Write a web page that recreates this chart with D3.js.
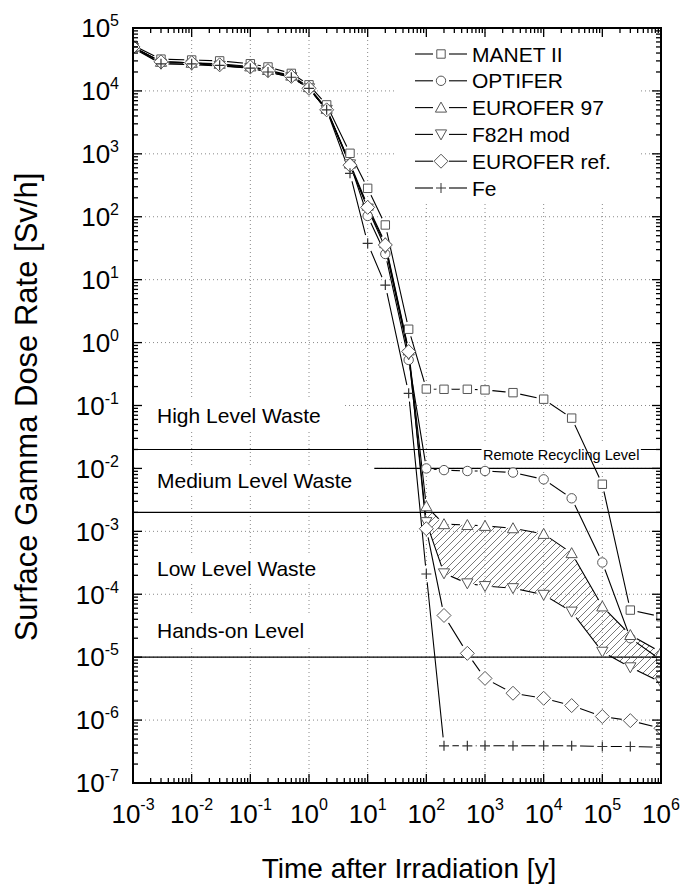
<!DOCTYPE html>
<html>
<head>
<meta charset="utf-8">
<script src="https://cdn.jsdelivr.net/npm/d3@7"></script>
<style>
  body { margin: 0; background: #fff; }
  svg { display: block; }
  text { font-family: "Liberation Sans", Arial, Helvetica, sans-serif; fill: #000; }
</style>
</head>
<body>
<svg id="chart" width="681" height="885"></svg>
<script>
// Decay times after irradiation [y]
const times = [1e-3, 3e-3, 1e-2, 3e-2, 0.1, 0.2, 0.5, 1, 2, 5, 10, 20, 50,
               100, 200, 500, 1e3, 3e3, 1e4, 3e4, 1e5, 3e5, 1e6];

// Surface gamma dose rate [Sv/h] per steel
const manet    = [5.3e4, 3.2e4, 3.1e4, 3.0e4, 2.7e4, 2.4e4, 1.9e4, 1.25e4, 6.0e3, 1020, 283, 74, 1.63,
                  0.183, 0.181, 0.181, 0.177, 0.16, 0.126, 0.063, 5.6e-3, 5.6e-5, 4.4e-5];
const optifer  = [5.0e4, 2.9e4, 2.8e4, 2.6e4, 2.4e4, 2.1e4, 1.7e4, 1.1e4, 5.0e3, 700, 103, 25.6, 0.53,
                  1.0e-2, 9.4e-3, 9.1e-3, 9.1e-3, 8.6e-3, 6.7e-3, 3.35e-3, 3.2e-4, 2.0e-5, 9.0e-6];
const eurofer97 = [5.0e4, 2.9e4, 2.8e4, 2.7e4, 2.45e4, 2.15e4, 1.75e4, 1.15e4, 5.2e3, 700, 150, 38, 0.75,
                  2.5e-3, 1.3e-3, 1.26e-3, 1.22e-3, 1.12e-3, 9.1e-4, 4.5e-4, 6.4e-5, 2.25e-5, 1.2e-5];
const f82h     = [4.8e4, 2.7e4, 2.6e4, 2.5e4, 2.3e4, 2.0e4, 1.65e4, 1.1e4, 5.0e3, 680, 135, 32, 0.65,
                  1.4e-3, 2.15e-4, 1.49e-4, 1.35e-4, 1.25e-4, 9.8e-5, 5.3e-5, 1.22e-5, 6.9e-6, 4.0e-6];
const euroferRef = [5.0e4, 2.9e4, 2.8e4, 2.6e4, 2.4e4, 2.1e4, 1.7e4, 1.1e4, 5.0e3, 660, 141, 35.6, 0.72,
                  1.1e-3, 4.6e-5, 1.15e-5, 4.6e-6, 2.67e-6, 2.22e-6, 1.7e-6, 1.14e-6, 9.8e-7, 7.4e-7];
const fe       = [5.0e4, 2.7e4, 2.7e4, 2.55e4, 2.3e4, 2.0e4, 1.65e4, 1.1e4, 5.0e3, 490, 37.8, 8.2, 0.156,
                  2.1e-4, 3.9e-7, 3.9e-7, 3.9e-7, 3.9e-7, 3.9e-7, 3.9e-7, 3.8e-7, 3.8e-7, 3.7e-7];

const seriesNames   = ["MANET II", "OPTIFER", "EUROFER 97", "F82H mod", "EUROFER ref.", "Fe"];
const seriesValues  = [manet, optifer, eurofer97, f82h, euroferRef, fe];
const seriesMarkers = ["square", "circle", "triangleUp", "triangleDown", "diamond", "plus"];

// Waste classification limits [Sv/h]
const levelValues = [2e-2, 1e-2, 2e-3, 1e-5];
const zoneLabels  = [
  { text: "High Level Waste",   value: 4.5e-2 },
  { text: "Medium Level Waste", value: 4.9e-3 },
  { text: "Low Level Waste",    value: 1.3e-4 },
  { text: "Hands-on Level",     value: 1.35e-5 * 1.6 }
];
const recyclingLabel = "Remote Recycling Level";

// Tick exponents
const xTickExps = d3.range(-3, 7);
const yTickExps = d3.range(-7, 6);

const xTitle = "Time after Irradiation [y]";
const yTitle = "Surface Gamma Dose Rate [Sv/h]";

// ---------------------------------------------------------------
const L = 133, R = 661, T = 28, B = 783;
const svg = d3.select("#chart");
const x = d3.scaleLog().domain([1e-3, 1e6]).range([L, R]);
const y = d3.scaleLog().domain([1e-7, 1e5]).range([B, T]);

const defs = svg.append("defs");
defs.append("clipPath").attr("id", "plotClip")
  .append("rect").attr("x", L).attr("y", T).attr("width", R - L).attr("height", B - T);

const hatch = defs.append("pattern").attr("id", "hatch")
  .attr("patternUnits", "userSpaceOnUse").attr("width", 7).attr("height", 7);
hatch.append("path").attr("d", "M-1,1 l2,-2 M0,7 l7,-7 M6,8 l2,-2")
  .attr("stroke", "#555").attr("stroke-width", 0.8);

function markerPath(type) {
  switch (type) {
    case "square": { const h = 4.2; return `M${-h},${-h}h${2*h}v${2*h}h${-2*h}Z`; }
    case "circle": { const r = 4.7; return `M${r},0A${r},${r} 0 1,1 ${-r},0A${r},${r} 0 1,1 ${r},0Z`; }
    case "triangleUp": return "M0,-5.5L5.6,4.5L-5.6,4.5Z";
    case "triangleDown": return "M0,5.5L5.6,-4.5L-5.6,-4.5Z";
    case "diamond": return "M0,-7L7,0L0,7L-7,0Z";
    case "plus": return "M-5,0H5M0,-5V5";
  }
}
const gapRadius = { square: 7.5, circle: 7.5, triangleUp: 7.5, triangleDown: 7.5, diamond: 9, plus: 8.5 };

// grid
const grid = svg.append("g").attr("stroke", "#888").attr("stroke-width", 1).attr("stroke-dasharray", "1,3");
xTickExps.filter(e => e > -3 && e < 6).forEach(e => {
  grid.append("line").attr("x1", x(10 ** e)).attr("x2", x(10 ** e)).attr("y1", T).attr("y2", B);
});
yTickExps.filter(e => e > -7 && e < 5).forEach(e => {
  grid.append("line").attr("y1", y(10 ** e)).attr("y2", y(10 ** e)).attr("x1", L).attr("x2", R);
});

// classification limits
const levels = svg.append("g").attr("stroke", "#000").attr("stroke-width", 1.1);
levelValues.forEach(v => {
  levels.append("line").attr("x1", L).attr("x2", R).attr("y1", y(v)).attr("y2", y(v));
});

// zone labels on white boxes
const labelsG = svg.append("g");
zoneLabels.forEach((z, i) => {
  const g = labelsG.append("g");
  const t = g.append("text").attr("x", 157).attr("y", [423, 488, 576, 638][i])
    .attr("font-size", 21).text(z.text);
  const bb = t.node().getBBox();
  const padX = 22, padY = 4;
  g.insert("rect", "text")
    .attr("x", Math.max(L + 1, bb.x - padX)).attr("y", bb.y - padY)
    .attr("width", bb.x + bb.width + padX - Math.max(L + 1, bb.x - padX)).attr("height", bb.height + 2 * padY)
    .attr("fill", "#fff");
});
{
  const g = labelsG.append("g");
  const t = g.append("text").attr("x", 483).attr("y", 459.5).attr("font-size", 14.5).text(recyclingLabel);
  const bb = t.node().getBBox();
  g.insert("rect", "text").attr("x", bb.x - 1.5).attr("y", bb.y - 3)
    .attr("width", bb.width + 3).attr("height", bb.height + 5).attr("fill", "#fff");
}

// legend background
svg.append("rect").attr("x", 397).attr("y", 36).attr("width", 243).attr("height", 168).attr("fill", "#fff");

// hatched band between EUROFER 97 and F82H mod
const bandIdx = d3.range(13, times.length);
const plot = svg.append("g").attr("clip-path", "url(#plotClip)");
plot.append("path")
  .datum(bandIdx)
  .attr("d", d3.area().x(i => x(times[i])).y0(i => y(f82h[i])).y1(i => y(eurofer97[i])))
  .attr("fill", "url(#hatch)");

// series lines, with gaps at each series' own markers
const line = d3.line().x(d => x(d.t)).y(d => y(d.v));
seriesValues.forEach((vals, s) => {
  const pts = vals.map((v, i) => ({ t: times[i], v }));
  const m = defs.append("mask").attr("id", "gap" + s).attr("maskUnits", "userSpaceOnUse")
    .attr("x", 0).attr("y", 0).attr("width", 681).attr("height", 885);
  m.append("rect").attr("width", 681).attr("height", 885).attr("fill", "#fff");
  m.selectAll("circle").data(pts).join("circle")
    .attr("cx", d => x(d.t)).attr("cy", d => y(d.v)).attr("r", gapRadius[seriesMarkers[s]]).attr("fill", "#000");
  plot.append("path").datum(pts).attr("d", line)
    .attr("mask", `url(#gap${s})`)
    .attr("fill", "none").attr("stroke", "#000").attr("stroke-width", 1.1);
});

// markers
seriesValues.forEach((vals, s) => {
  const type = seriesMarkers[s];
  plot.append("g").selectAll("path").data(vals.map((v, i) => ({ t: times[i], v }))).join("path")
    .attr("transform", d => `translate(${x(d.t)},${y(d.v)})`)
    .attr("d", markerPath(type))
    .attr("fill", type === "plus" ? "none" : "#fff")
    .attr("stroke", type === "plus" ? "#333" : "#555")
    .attr("stroke-width", type === "plus" ? 1.2 : 1);
});

// legend
const legend = svg.append("g");
seriesNames.forEach((name, s) => {
  const cy = 54 + s * 26.8;
  const type = seriesMarkers[s];
  legend.append("line").attr("x1", 415).attr("x2", 433).attr("y1", cy).attr("y2", cy).attr("stroke", "#000").attr("stroke-width", 1.1);
  legend.append("line").attr("x1", 449).attr("x2", 467).attr("y1", cy).attr("y2", cy).attr("stroke", "#000").attr("stroke-width", 1.1);
  legend.append("path").attr("transform", `translate(441,${cy})`).attr("d", markerPath(type))
    .attr("fill", type === "plus" ? "none" : "#fff")
    .attr("stroke", type === "plus" ? "#333" : "#555").attr("stroke-width", 1);
  legend.append("text").attr("x", 472).attr("y", cy + 7.5).attr("font-size", 21).text(name);
});

// frame and inward ticks on all four sides
const axes = svg.append("g").attr("stroke", "#000");
axes.append("rect").attr("x", L).attr("y", T).attr("width", R - L).attr("height", B - T)
  .attr("fill", "none").attr("stroke-width", 2);
const tickW = 1.3, majLen = 9, minLen = 5;
xTickExps.forEach(e => {
  const v = 10 ** e;
  axes.append("line").attr("x1", x(v)).attr("x2", x(v)).attr("y1", B).attr("y2", B - majLen).attr("stroke-width", tickW);
  axes.append("line").attr("x1", x(v)).attr("x2", x(v)).attr("y1", T).attr("y2", T + majLen).attr("stroke-width", tickW);
  if (e < 6) d3.range(2, 10).forEach(k => {
    const xv = x(k * v);
    axes.append("line").attr("x1", xv).attr("x2", xv).attr("y1", B).attr("y2", B - minLen).attr("stroke-width", tickW);
    axes.append("line").attr("x1", xv).attr("x2", xv).attr("y1", T).attr("y2", T + minLen).attr("stroke-width", tickW);
  });
});
yTickExps.forEach(e => {
  const v = 10 ** e;
  axes.append("line").attr("y1", y(v)).attr("y2", y(v)).attr("x1", L).attr("x2", L + majLen).attr("stroke-width", tickW);
  axes.append("line").attr("y1", y(v)).attr("y2", y(v)).attr("x1", R).attr("x2", R - majLen).attr("stroke-width", tickW);
  if (e < 5) d3.range(2, 10).forEach(k => {
    const yv = y(k * v);
    axes.append("line").attr("y1", yv).attr("y2", yv).attr("x1", L).attr("x2", L + minLen).attr("stroke-width", tickW);
    axes.append("line").attr("y1", yv).attr("y2", yv).attr("x1", R).attr("x2", R - minLen).attr("stroke-width", tickW);
  });
});

// tick labels (powers of ten)
xTickExps.forEach(e => {
  const t = svg.append("text").attr("x", x(10 ** e)).attr("y", 823).attr("text-anchor", "middle").attr("font-size", 26);
  t.append("tspan").text("10");
  t.append("tspan").attr("font-size", 16).attr("dy", -13).text(e);
});
yTickExps.forEach(e => {
  const t = svg.append("text").attr("x", 119).attr("y", y(10 ** e) + 9.3).attr("text-anchor", "end").attr("font-size", 26);
  t.append("tspan").text("10");
  t.append("tspan").attr("font-size", 16).attr("dy", -11).text(e);
});

// axis titles
svg.append("text").attr("x", 409).attr("y", 878).attr("text-anchor", "middle").attr("font-size", 28).text(xTitle);
svg.append("text").attr("transform", "translate(37,407) rotate(-90)").attr("text-anchor", "middle")
  .attr("font-size", 31).text(yTitle);
</script>
</body>
</html>
